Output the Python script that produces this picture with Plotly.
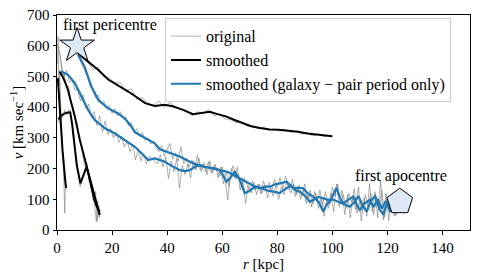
import plotly.graph_objects as go

# ---------------- data ----------------
# main black (smoothed) and its original
r_bm = [7.7, 11, 15, 18.6, 22, 26, 29.5, 32, 35.5, 39, 42, 45.8, 49.4, 52, 55.5, 58, 61.6, 64.5,
        67.6, 70.5, 73.7, 77.3, 80.5, 84, 87.5, 91, 94.5, 97.5, 100]
v_bm = [575, 550, 521, 490, 472, 450, 429, 413, 404, 408, 403, 391, 377, 380, 385, 378, 369, 358,
        347, 338, 332, 327, 326, 324, 320, 314, 310, 307, 305]
r_gm = [7, 9, 11, 13, 15, 17, 19, 21, 23, 25, 27, 29, 31, 33, 35, 37, 39, 41, 43, 45, 47, 49, 51,
        53, 55, 57, 59, 61, 63, 65, 67, 69, 71, 73, 75, 77, 79, 81, 83, 85, 87, 89, 91, 93, 95, 97,
        99, 100]
v_gm = [585, 560, 548, 522, 530, 498, 495, 478, 480, 452, 460, 425, 432, 410, 405, 420, 398, 415,
        400, 395, 388, 372, 385, 379, 392, 372, 378, 362, 360, 350, 352, 338, 340, 330, 335, 325,
        330, 322, 328, 318, 322, 312, 316, 306, 312, 304, 308, 302]

# blue A (smoothed, galaxy-pair period only)
r_ba = [7.7, 10, 12.5, 15, 18.6, 22, 24.6, 27, 28.3, 32, 35.5, 37.4, 39, 41, 44.6, 47, 49.4, 52,
        55.5, 58, 61.6, 63, 65.2, 67, 68.8, 71, 73.7, 75.5, 77.3, 79, 81, 83.4, 85.8, 87.5, 89.4,
        91, 93, 95, 96.7, 98, 99.1, 100.5, 101.5, 103, 104, 106, 107.6, 109, 110, 111.5, 113.6,
        115, 116.5, 118, 119.5, 121, 122.5, 124]
v_ba = [570, 532, 467, 423, 396, 380, 364, 337, 318, 299, 282, 263, 258, 250, 239, 228, 217, 209,
        201, 197, 190, 185, 174, 165, 157, 146, 136, 141, 141, 148, 152, 157, 136, 138, 136,
        120, 109, 92, 60, 85, 92, 118, 137, 100, 87, 100, 109, 80, 65, 85, 98,
        75, 100, 70, 95, 60, 85, 55]
# blue B
r_bb = [1.6, 4, 6.5, 8.9, 11.3, 13.7, 17.4, 20.9, 24.6, 28.3, 31.9, 33.1, 35.5, 37.4, 39.2, 41,
        42.8, 44.6, 46.5, 48.2, 50, 51.9, 53.5, 55.5, 57.5, 59.1, 60.5, 61.6, 63, 64.6, 66.4, 68.2,
        70, 71.2, 73, 75, 76.5, 78.5, 80.9, 82, 83.4, 85, 86.5, 88.2, 90, 91.8, 93.5, 95, 96.7,
        98.5, 100, 102, 104, 106.3, 108, 109.5, 111, 112.5, 114, 115.5, 117, 118.5, 120, 121.5,
        123, 124]
v_bb = [516, 505, 478, 434, 391, 358, 331, 315, 293, 271, 239, 228, 233, 228, 222, 212,
        203, 195, 192, 195, 205, 212, 206, 204, 200, 195, 175, 157, 170, 190, 163, 120,
        128, 136, 140, 132, 128, 125, 120, 128, 136, 145, 130, 125, 112, 92, 100, 108, 103,
        98, 100, 92, 85, 76, 90, 110, 80, 60, 95, 110, 70, 50, 90, 65,
        100, 70]

# originals for the blue curves
r_ga = list(range(7, 125))
v_ga = [580, 560, 545, 520, 500, 470, 455, 430, 440, 410, 420, 395, 405, 380, 395, 372, 385, 360,
        368, 340, 350, 320, 330, 305, 318, 292, 300, 280, 290, 268,
        255, 275, 240, 262, 282, 230, 250, 225, 271, 215, 235, 205, 228, 200, 245, 195, 215, 190,
        222, 185, 210, 200, 175, 205, 170, 98, 190, 210, 165, 180, 140, 170, 150, 125, 160, 130,
        150, 118, 160, 130, 155, 125, 165, 140, 170, 135, 175, 140, 120, 150, 115, 145, 110, 150,
        100, 130, 85, 120, 70, 105, 45, 100, 80, 140, 110, 150, 85, 115, 70, 120, 90, 135, 55,
        100, 60, 115, 75, 120, 50, 110, 65, 130, 40, 105, 55, 95, 45, 80]
r_gb = [0.5, 1.5, 2.5, 3.5, 4.5, 5.5, 6.5, 7.5, 8.5, 9.5, 10.5, 11.5, 12.5, 13.5, 14.5, 15.5,
        16.5, 17.5, 18.5, 19.5, 20.5, 21.5, 22.5, 23.5, 24.5, 25.5, 26.5, 27.5, 28.5, 29.5, 30.5,
        31.5, 32.5, 33.5, 34.5, 35.5] + [x + 0.5 for x in range(36, 124)]
v_gb = [600, 540, 495, 520, 480, 490, 455, 460, 420, 440, 395, 410, 365, 385, 340, 372,
        320, 355, 310, 330, 300, 318, 285, 305, 270, 290, 255, 280, 228, 262, 225,
        248, 215, 240, 232, 222,
        215, 245, 205, 238, 168, 225, 190, 232, 136, 210, 180, 215, 170, 225, 195, 235, 190, 220,
        180, 225, 185, 215, 170, 205, 150, 190, 140, 200, 170, 205, 130, 160, 87, 145, 120, 155,
        115, 150, 120, 145, 105, 140, 110, 145, 100, 140, 115, 160, 130, 165, 110, 140, 100, 135,
        85, 120, 75, 125, 90, 130, 80, 125, 70, 120, 60, 150, 75, 130, 50, 115, 40, 110, 65, 140,
        30, 105, 45, 150, 60, 125, 40, 163, 33, 120, 30, 110, 45, 90]

# short black curves near the centre
r_a = [0.3, 0.6, 1.0, 1.5, 2.0, 2.5, 3.0, 3.3]
v_a = [495, 460, 400, 330, 260, 200, 160, 137]
r_ga2 = [0.2, 0.4, 0.6, 0.8, 1.0, 1.3, 1.6, 1.9, 2.2, 2.5, 2.8, 3.1, 3.3]
v_ga2 = [540, 630, 500, 470, 520, 380, 330, 290, 230, 160, 55, 170, 130]

r_b = [0.5, 1.5, 2.5, 3.5, 4.8, 5.5, 6.3, 7.2, 8.5, 9.5, 10.7, 11.5, 12.5, 13.5, 14.5, 15.5]
v_b = [360, 372, 378, 382, 383, 345, 280, 210, 152, 175, 205, 180, 140, 100, 75, 60]
r_gb2 = [0.5, 1.2, 2.0, 2.8, 3.6, 4.4, 5.2, 6.0, 6.8, 7.6, 8.4, 9.2, 10.0, 10.8, 11.6, 12.4,
         13.2, 14.0, 14.6, 15.2, 15.6]
v_gb2 = [350, 380, 365, 390, 375, 392, 370, 320, 250, 200, 140, 170, 190, 220, 160, 150,
         95, 125, 30, 80, 50]

r_c = [1.0, 2.0, 3.0, 4.0, 5.0, 6.5, 8.3, 10.1, 11.3, 12.5, 13.7, 14.9, 15.5]
v_c = [515, 500, 480, 456, 420, 369, 293, 225, 190, 150, 110, 76, 49]
r_gc = [1.0, 1.8, 2.6, 3.4, 4.2, 5.0, 5.8, 6.6, 7.4, 8.2, 9.0, 9.8, 10.6, 11.4, 12.2, 13.0,
        13.8, 14.3, 14.8, 15.3, 15.6]
v_gc = [580, 505, 510, 465, 470, 420, 400, 360, 340, 290, 270, 220, 200, 180, 140, 120,
        70, 27, 95, 40, 60]

peri_r, peri_v = [7.3], [600]
apo_r, apo_v = [124.5], [92]

x_ticks = [0, 20, 40, 60, 80, 100, 120, 140]
y_ticks = [0, 100, 200, 300, 400, 500, 600, 700]

GREY = "rgba(120,120,120,0.75)"
BLUE = "#1f77b4"
FONT = "Liberation Serif, DejaVu Serif, serif"

fig = go.Figure()

greys = [(r_gm, v_gm), (r_ga, v_ga), (r_gb, v_gb), (r_ga2, v_ga2), (r_gb2, v_gb2), (r_gc, v_gc)]
for i, (rr, vv) in enumerate(greys):
    fig.add_trace(go.Scatter(x=rr, y=vv, mode="lines", line=dict(color=GREY, width=0.8),
                             name="original", showlegend=(i == 0), legendrank=1))

blacks = [(r_bm, v_bm), (r_a, v_a), (r_b, v_b), (r_c, v_c)]
for i, (rr, vv) in enumerate(blacks):
    fig.add_trace(go.Scatter(x=rr, y=vv, mode="lines", line=dict(color="black", width=2),
                             name="smoothed", showlegend=(i == 0), legendrank=2))

blues = [(r_ba, v_ba), (r_bb, v_bb)]
for i, (rr, vv) in enumerate(blues):
    fig.add_trace(go.Scatter(x=rr, y=vv, mode="lines", line=dict(color=BLUE, width=2.2),
                             name="smoothed (galaxy − pair period only)",
                             showlegend=(i == 0), legendrank=3))

fig.add_trace(go.Scatter(x=peri_r, y=peri_v, mode="markers", showlegend=False,
                         marker=dict(symbol="star", size=26, color="#dde9f6",
                                     line=dict(color="black", width=1))))
fig.add_trace(go.Scatter(x=apo_r, y=apo_v, mode="markers", showlegend=False,
                         marker=dict(symbol="pentagon", size=27, color="#dde9f6",
                                     line=dict(color="black", width=1))))

fig.add_annotation(x=19.2, y=668, text="first pericentre", showarrow=False,
                   font=dict(family=FONT, size=16, color="black"))
fig.add_annotation(x=124.9, y=176, text="first apocentre", showarrow=False,
                   font=dict(family=FONT, size=16, color="black"))

axis_common = dict(showline=True, linecolor="black", linewidth=1, mirror=True,
                   ticks="outside", ticklen=3.5, tickwidth=1, tickcolor="black",
                   showgrid=False, zeroline=False, automargin=False,
                   ticklabeloverflow="allow",
                   tickfont=dict(family=FONT, size=15, color="black"))

# the page adds an 8px body margin; the figure is sized to compensate
fig.update_layout(
    width=477, height=269,
    margin=dict(l=49, r=15, t=7, b=47),
    paper_bgcolor="white", plot_bgcolor="white",
    font=dict(family=FONT, size=15, color="black"),
    xaxis=dict(range=[0, 150], tickvals=x_ticks,
               title=dict(text="<i>r</i> [kpc]", font=dict(family=FONT, size=15), standoff=2),
               **axis_common),
    yaxis=dict(range=[0, 700], tickvals=y_ticks,
               title=dict(text="<i>v</i> [km sec<sup>−1</sup>]", font=dict(family=FONT, size=15),
                          standoff=4),
               **axis_common),
    legend=dict(x=0.2615, y=0.985, xanchor="left", yanchor="top",
                bgcolor="rgba(255,255,255,0.85)", bordercolor="#cccccc", borderwidth=1,
                font=dict(family=FONT, size=16), tracegroupgap=0, itemwidth=30),
)

fig.write_html("out.html")
